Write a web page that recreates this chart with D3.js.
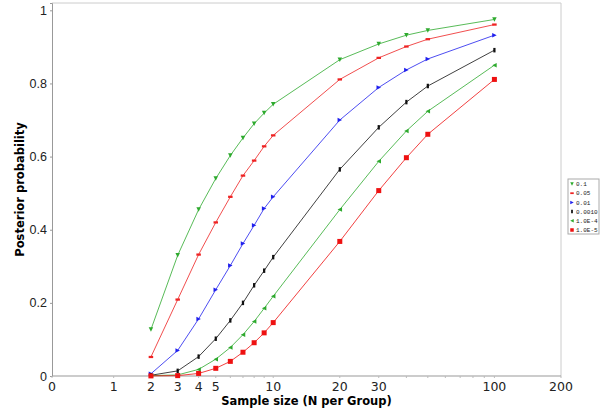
<!DOCTYPE html>
<html>
<head>
<meta charset="utf-8">
<script src="https://cdn.jsdelivr.net/npm/d3@7"></script>
<style>
  body { margin: 0; background: #fff; }
  svg { display: block; font-family: "DejaVu Sans", sans-serif; }
</style>
</head>
<body>
<div id="chart"></div>
<script>
// sample sizes (N per group)
var sampleSizes = [2, 3, 4, 5, 6, 7, 8, 9, 10, 20, 30, 40, 50, 100];

// posterior probability per prior
var p_01    = [0.127, 0.330, 0.455, 0.540, 0.603, 0.651, 0.690, 0.719, 0.743, 0.865, 0.908, 0.932, 0.945, 0.975];
var p_005   = [0.052, 0.209, 0.332, 0.420, 0.490, 0.548, 0.589, 0.628, 0.658, 0.811, 0.870, 0.901, 0.921, 0.961];
var p_001   = [0.006, 0.070, 0.156, 0.236, 0.302, 0.362, 0.412, 0.458, 0.490, 0.700, 0.789, 0.837, 0.867, 0.932];
var p_0001  = [0.002, 0.014, 0.053, 0.102, 0.152, 0.200, 0.248, 0.288, 0.325, 0.565, 0.680, 0.749, 0.793, 0.891];
var p_1e4   = [0.001, 0.003, 0.018, 0.046, 0.078, 0.113, 0.149, 0.185, 0.218, 0.455, 0.587, 0.670, 0.724, 0.850];
var p_1e5   = [0.0003, 0.001, 0.007, 0.021, 0.040, 0.065, 0.091, 0.118, 0.146, 0.368, 0.507, 0.597, 0.661, 0.811];

var seriesNames = ["0.1", "0.05", "0.01", "0.0010", "1.0E-4", "1.0E-5"];
var seriesValues = [p_01, p_005, p_001, p_0001, p_1e4, p_1e5];
var seriesColors = ["#2eaa2e", "#ee2222", "#2020ee", "#111111", "#2eaa2e", "#ee1111"];
var seriesShapes = ["down", "hrect", "right", "vrect", "left", "square"];

var xTickLabels = [0, 1, 2, 3, 4, 5, 10, 20, 30, 100, 200];
var xMinorTicks = [6, 7, 8, 9, 40, 50, 60, 70, 80, 90];
var yTicks = [0, 0.2, 0.4, 0.6, 0.8, 1];

var width = 600, height = 415;
var plotLeft = 52, plotRight = 561, plotTop = 3, plotBottom = 376;

// values below 10 get squeezed toward 1 before taking the log
function adjust(v) { return v < 10 ? v + (10 - v) / 10 : v; }

var x = d3.scaleLog().domain([1, 200]).range([plotLeft, plotRight]);
var y = d3.scaleLinear().domain([0, 1.02]).range([plotBottom, plotTop]);
function xPos(v) { return x(adjust(v)); }

var svg = d3.select("#chart").append("svg")
    .attr("width", width)
    .attr("height", height);

// plot frame (top and right edges)
svg.append("path")
    .attr("d", "M" + plotLeft + "," + plotTop + "H" + plotRight + "V" + plotBottom)
    .attr("fill", "none")
    .attr("stroke", "#cccccc");

// y axis
var yAxis = svg.append("g")
    .attr("transform", "translate(" + plotLeft + ",0)")
    .call(d3.axisLeft(y).tickValues(yTicks).tickSize(2).tickPadding(3)
        .tickFormat(function(d) { return d === 0 || d === 1 ? d3.format("d")(d) : d3.format(".1f")(d); }));
yAxis.select(".domain").attr("stroke", "#999999");
yAxis.selectAll(".tick line").attr("stroke", "#999999");
yAxis.selectAll("text").attr("font-size", 12.5).attr("fill", "#222");

// x axis
var xAxis = svg.append("g")
    .attr("transform", "translate(0," + plotBottom + ")");
xAxis.append("line")
    .attr("x1", plotLeft).attr("x2", plotRight)
    .attr("stroke", "#999999");
xAxis.selectAll(".minor")
    .data(xTickLabels.concat(xMinorTicks))
    .enter().append("line")
    .attr("x1", function(d) { return xPos(d); })
    .attr("x2", function(d) { return xPos(d); })
    .attr("y1", 0).attr("y2", 2)
    .attr("stroke", "#bbbbbb");
xAxis.selectAll(".lbl")
    .data(xTickLabels)
    .enter().append("text")
    .attr("x", function(d) { return xPos(d); })
    .attr("y", 14.5)
    .attr("text-anchor", "middle")
    .attr("font-size", 12.5)
    .attr("fill", "#222")
    .text(function(d) { return d; });

// axis titles
svg.append("text")
    .attr("x", (plotLeft + plotRight) / 2)
    .attr("y", 405)
    .attr("text-anchor", "middle")
    .attr("font-size", 11.5)
    .attr("font-weight", "bold")
    .text("Sample size (N per Group)");

svg.append("text")
    .attr("transform", "translate(24," + ((plotTop + plotBottom) / 2) + ") rotate(-90)")
    .attr("text-anchor", "middle")
    .attr("font-size", 11.5)
    .attr("font-weight", "bold")
    .text("Posterior probability");

// marker shapes
function shapePath(type, s) {
  var h = s / 2;
  switch (type) {
    case "down":   return "M" + (-h) + "," + (-h) + "L" + h + "," + (-h) + "L0," + h + "Z";
    case "right":  return "M" + (-h) + "," + (-h) + "L" + h + ",0L" + (-h) + "," + h + "Z";
    case "left":   return "M" + h + "," + (-h) + "L" + (-h) + ",0L" + h + "," + h + "Z";
    case "hrect":  return "M" + (-h) + "," + (-h / 2) + "h" + s + "v" + h + "h" + (-s) + "Z";
    case "vrect":  return "M" + (-h / 2) + "," + (-h) + "h" + h + "v" + s + "h" + (-h) + "Z";
    default:       return "M" + (-h) + "," + (-h) + "h" + s + "v" + s + "h" + (-s) + "Z";
  }
}

var line = d3.line()
    .x(function(d) { return xPos(d.n); })
    .y(function(d) { return y(d.p); });

seriesValues.forEach(function(vals, i) {
  var pts = sampleSizes.map(function(n, j) { return {n: n, p: vals[j]}; });
  var g = svg.append("g");
  g.append("path")
      .datum(pts)
      .attr("d", line)
      .attr("fill", "none")
      .attr("stroke", seriesColors[i])
      .attr("stroke-opacity", 0.8)
      .attr("stroke-width", 1);
  g.selectAll(".pt")
      .data(pts)
      .enter().append("path")
      .attr("transform", function(d) { return "translate(" + xPos(d.n) + "," + y(d.p) + ")"; })
      .attr("d", shapePath(seriesShapes[i], seriesShapes[i] === "square" ? 5 : 4.5))
      .attr("fill", seriesColors[i]);
});

// legend
var legend = svg.append("g").attr("transform", "translate(568,179)");
legend.append("rect")
    .attr("width", 31).attr("height", 55)
    .attr("fill", "#fff")
    .attr("stroke", "#aaaaaa");
seriesNames.forEach(function(name, i) {
  var row = legend.append("g").attr("transform", "translate(4," + (5 + i * 9.2) + ")");
  row.append("path")
      .attr("d", shapePath(seriesShapes[i], 3.5))
      .attr("fill", seriesColors[i]);
  row.append("text")
      .attr("x", 4)
      .attr("y", 2.2)
      .attr("font-size", 6)
      .attr("font-family", "Liberation Mono, monospace")
      .attr("fill", "#222")
      .text(name);
});
</script>
</body>
</html>
